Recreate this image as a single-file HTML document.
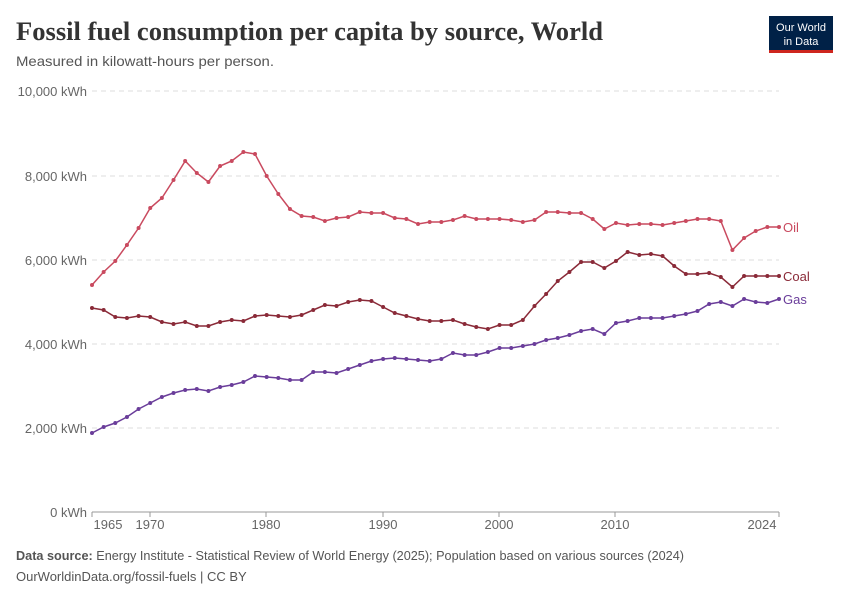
<!DOCTYPE html>
<html><head><meta charset="utf-8"><style>
body{margin:0;background:#fff;font-family:"Liberation Sans",sans-serif;}
</style></head><body>
<svg id="s" width="850" height="600" xmlns="http://www.w3.org/2000/svg" font-family="Liberation Sans, sans-serif">
<text x="16" y="40" font-family="Liberation Serif, serif" font-size="26" font-weight="bold" fill="#333" textLength="587" lengthAdjust="spacingAndGlyphs">Fossil fuel consumption per capita by source, World</text>
<text x="16" y="66" font-size="14" fill="#555" textLength="258" lengthAdjust="spacingAndGlyphs">Measured in kilowatt-hours per person.</text>
<rect x="769" y="16" width="64" height="34" fill="#002147"/>
<rect x="769" y="50" width="64" height="3" fill="#ce261e"/>
<text x="801" y="31" font-size="11" fill="#fff" text-anchor="middle">Our World</text>
<text x="801" y="45" font-size="11" fill="#fff" text-anchor="middle">in Data</text>
<g stroke="#ddd" stroke-dasharray="5,4">
<line x1="92" x2="779" y1="91" y2="91"/><line x1="92" x2="779" y1="176" y2="176"/><line x1="92" x2="779" y1="260" y2="260"/><line x1="92" x2="779" y1="344" y2="344"/><line x1="92" x2="779" y1="428" y2="428"/>
</g>
<line x1="92" x2="779" y1="512" y2="512" stroke="#999"/>
<g font-size="13" fill="#666" text-anchor="end">
<text x="87" y="96">10,000 kWh</text><text x="87" y="181">8,000 kWh</text><text x="87" y="265">6,000 kWh</text><text x="87" y="349">4,000 kWh</text><text x="87" y="433">2,000 kWh</text><text x="87" y="517">0 kWh</text>
</g>
<g font-size="13" fill="#666" text-anchor="middle">
<text x="108" y="529">1965</text><text x="150" y="529">1970</text><text x="266" y="529">1980</text><text x="383" y="529">1990</text><text x="499" y="529">2000</text><text x="615" y="529">2010</text><text x="762" y="529">2024</text>
</g>
<g stroke="#999"><line x1="92" x2="92" y1="512" y2="517"/><line x1="150" x2="150" y1="512" y2="517"/><line x1="266" x2="266" y1="512" y2="517"/><line x1="383" x2="383" y1="512" y2="517"/><line x1="499" x2="499" y1="512" y2="517"/><line x1="615" x2="615" y1="512" y2="517"/><line x1="779" x2="779" y1="512" y2="517"/></g>
<text x="783" y="232" font-size="13" fill="#c94a5f">Oil</text>
<text x="783" y="281" font-size="13" fill="#8a2a38">Coal</text>
<text x="783" y="304" font-size="13" fill="#6a3d9a">Gas</text>
<text x="16" y="560" font-size="13" fill="#555" textLength="668" lengthAdjust="spacingAndGlyphs"><tspan font-weight="bold">Data source:</tspan> Energy Institute - Statistical Review of World Energy (2025); Population based on various sources (2024)</text>
<text x="16" y="581" font-size="13" fill="#555">OurWorldinData.org/fossil-fuels | CC BY</text>
</svg>
<script>
var oil=[285,272,261,245,228,208,198,180,161,173,182,166,161,152,154,176,194,209,216,217,221,218,217,212,213,213,218,219,224,222,222,220,216,219,219,219,220,222,220,212,212,213,213,219,229,223,225,224,224,225,223,221,219,219,221,250,238,231,227,227];
var coal=[308,310,317,318,316,317,322,324,322,326,326,322,320,321,316,315,316,317,315,310,305,306,302,300,301,307,313,316,319,321,321,320,324,327,329,325,325,320,306,294,281,272,262,262,268,261,252,255,254,256,266,274,274,273,277,287,276,276,276,276];
var gas=[433,427,423,417,409,403,397,393,390,389,391,387,385,382,376,377,378,380,380,372,372,373,369,365,361,359,358,359,360,361,359,353,355,355,352,348,348,346,344,340,338,335,331,329,334,323,321,318,318,318,316,314,311,304,302,306,299,302,303,299];
var s=document.getElementById('s'),ns='http://www.w3.org/2000/svg';
[[oil,'#c94a5f'],[coal,'#8a2a38'],[gas,'#6a3d9a']].forEach(function(a){
 var pts=a[0].map(function(y,i){return (92+i*687/59).toFixed(1)+','+y;});
 var p=document.createElementNS(ns,'polyline');p.setAttribute('points',pts.join(' '));p.setAttribute('fill','none');p.setAttribute('stroke',a[1]);p.setAttribute('stroke-width','1.5');s.appendChild(p);
 a[0].forEach(function(y,i){var c=document.createElementNS(ns,'circle');c.setAttribute('cx',92+i*687/59);c.setAttribute('cy',y);c.setAttribute('r','2');c.setAttribute('fill',a[1]);s.appendChild(c);});
});
</script>
</body></html>
